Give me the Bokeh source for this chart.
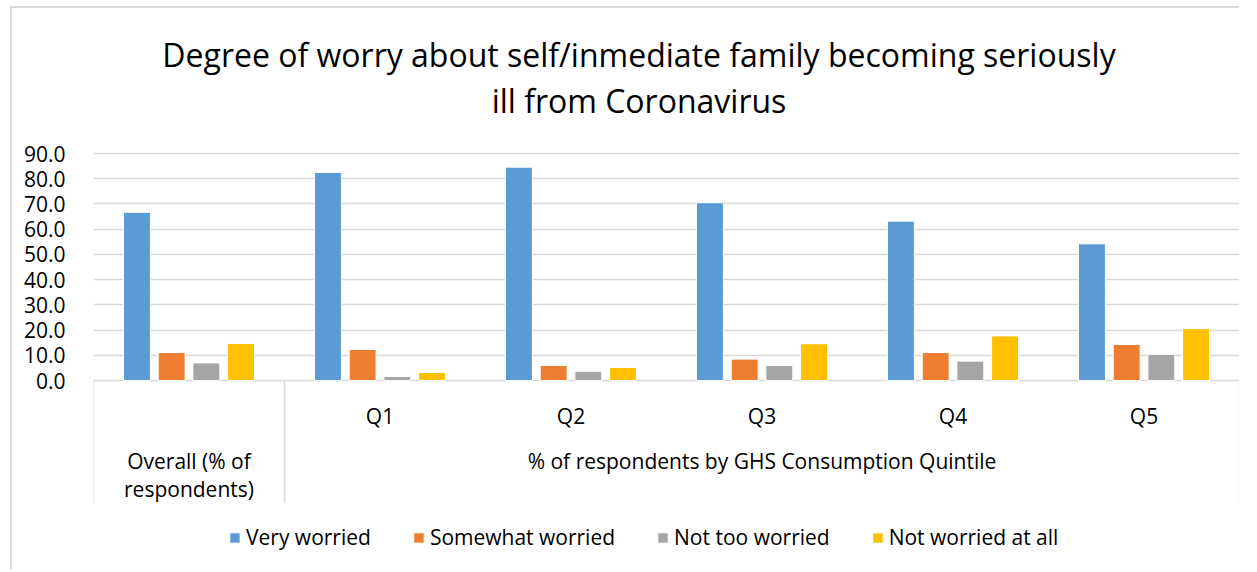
from bokeh.plotting import figure
from bokeh.models import (Range1d, FixedTicker, Legend, LegendItem,
                          ColumnDataSource)
from bokeh.core.properties import value
from bokeh.embed import file_html
from bokeh.resources import INLINE

# ---------------- data ----------------
categories = ["Overall", "Q1", "Q2", "Q3", "Q4", "Q5"]
series_names = ["Very worried", "Somewhat worried", "Not too worried", "Not worried at all"]
very_worried = [66.7, 82.5, 84.6, 70.5, 63.2, 54.2]
somewhat_worried = [11.1, 12.3, 6.0, 8.5, 11.1, 14.3]
not_too_worried = [7.0, 1.6, 3.7, 6.0, 7.7, 10.4]
not_worried_at_all = [14.7, 3.2, 5.2, 14.6, 17.7, 20.6]
quintile_labels = ["Q1", "Q2", "Q3", "Q4", "Q5"]
overall_label = ["Overall (% of", "respondents)"]
group_label = "% of respondents by GHS Consumption Quintile"
y_ticks = [0, 10, 20, 30, 40, 50, 60, 70, 80, 90]
y_tick_labels = ["0.0", "10.0", "20.0", "30.0", "40.0", "50.0", "60.0", "70.0", "80.0", "90.0"]
title_lines = ["Degree of worry about self/inmediate family becoming seriously",
               "ill from Coronavirus"]

colors = ["#5B9BD5", "#ED7D31", "#A5A5A5", "#FFC000"]
FONT = "Open Sans"

TABLE_DEPTH = 48.4     # depth of category table below zero (data units)
Y_BOTTOM = -75.7
Y_TOP = 147.5
TITLE_X = 2.856
TITLE_Y = [129.4, 111.2]

p = figure(width=1229, height=563, output_backend="svg", toolbar_location=None,
           x_axis_type=None, x_range=Range1d(0, len(categories)),
           y_range=Range1d(Y_BOTTOM, Y_TOP),
           min_border_left=81, min_border_right=2, min_border_top=0,
           min_border_bottom=0)
p.margin = (6, 0, 0, 10)
p.styles = {"border-left": "2px solid #d9d9d9", "border-top": "2px solid #d9d9d9"}
p.outline_line_color = None
p.background_fill_color = "white"
p.border_fill_color = "white"

# y axis
p.yaxis.ticker = FixedTicker(ticks=y_ticks)
p.yaxis.major_label_overrides = {t: l for t, l in zip(y_ticks, y_tick_labels)}
p.yaxis.axis_line_color = None
p.yaxis.major_tick_line_color = None
p.yaxis.minor_tick_line_color = None
p.yaxis.major_label_text_font = FONT
p.yaxis.major_label_text_font_size = "21px"
p.yaxis.major_label_text_color = "#000000"
p.yaxis.major_label_standoff = 22
p.ygrid.bounds = (0, 90)
p.ygrid.grid_line_color = "#d9d9d9"
p.ygrid.grid_line_width = 1.5

# title
p.text(x=[TITLE_X] * 2, y=TITLE_Y, text=title_lines,
       text_font=value(FONT), text_font_size="32px", text_align="center",
       text_baseline="middle", text_color="#000000")

# bars
series = [very_worried, somewhat_worried, not_too_worried, not_worried_at_all]
offsets = [-0.2725, -0.0908, 0.0908, 0.2725]
bar_w = 0.141
centers = [i + 0.5 for i in range(len(categories))]
renderers = []
for vals, off, col in zip(series, offsets, colors):
    src = ColumnDataSource(dict(x=[c + off for c in centers], top=vals))
    r = p.vbar(x="x", top="top", bottom=0, width=bar_w, source=src,
               fill_color=col, line_color="white", line_width=1)
    renderers.append(r)

# category table lines
bounds_x = [0, 1, len(categories)]
p.segment(x0=bounds_x, x1=bounds_x, y0=[0] * 3, y1=[-TABLE_DEPTH] * 3,
          line_color="#d9d9d9", line_width=1.5)

# category labels
p.text(x=centers[1:], y=[-13.9] * 5, text=quintile_labels,
       text_font=value(FONT), text_font_size="21px", text_align="center",
       text_baseline="middle", text_color="#000000")
p.text(x=[centers[0]] * 2, y=[-31.7, -42.8], text=overall_label,
       text_font=value(FONT), text_font_size="21px", text_align="center",
       text_baseline="middle", text_color="#000000")
p.text(x=[(1 + len(categories)) / 2], y=[-31.7], text=[group_label],
       text_font=value(FONT), text_font_size="21px", text_align="center",
       text_baseline="middle", text_color="#000000")

# legend
legend = Legend(items=[LegendItem(label=n, renderers=[r]) for n, r in zip(series_names, renderers)],
                orientation="horizontal", location=(135, 20),
                label_text_font=FONT, label_text_font_size="21px",
                label_text_color="#000000",
                glyph_width=13, glyph_height=13, label_standoff=5, spacing=41,
                padding=0, margin=0, border_line_color=None,
                background_fill_alpha=0)
p.add_layout(legend)

open("out.html", "w").write(file_html(p, INLINE))
